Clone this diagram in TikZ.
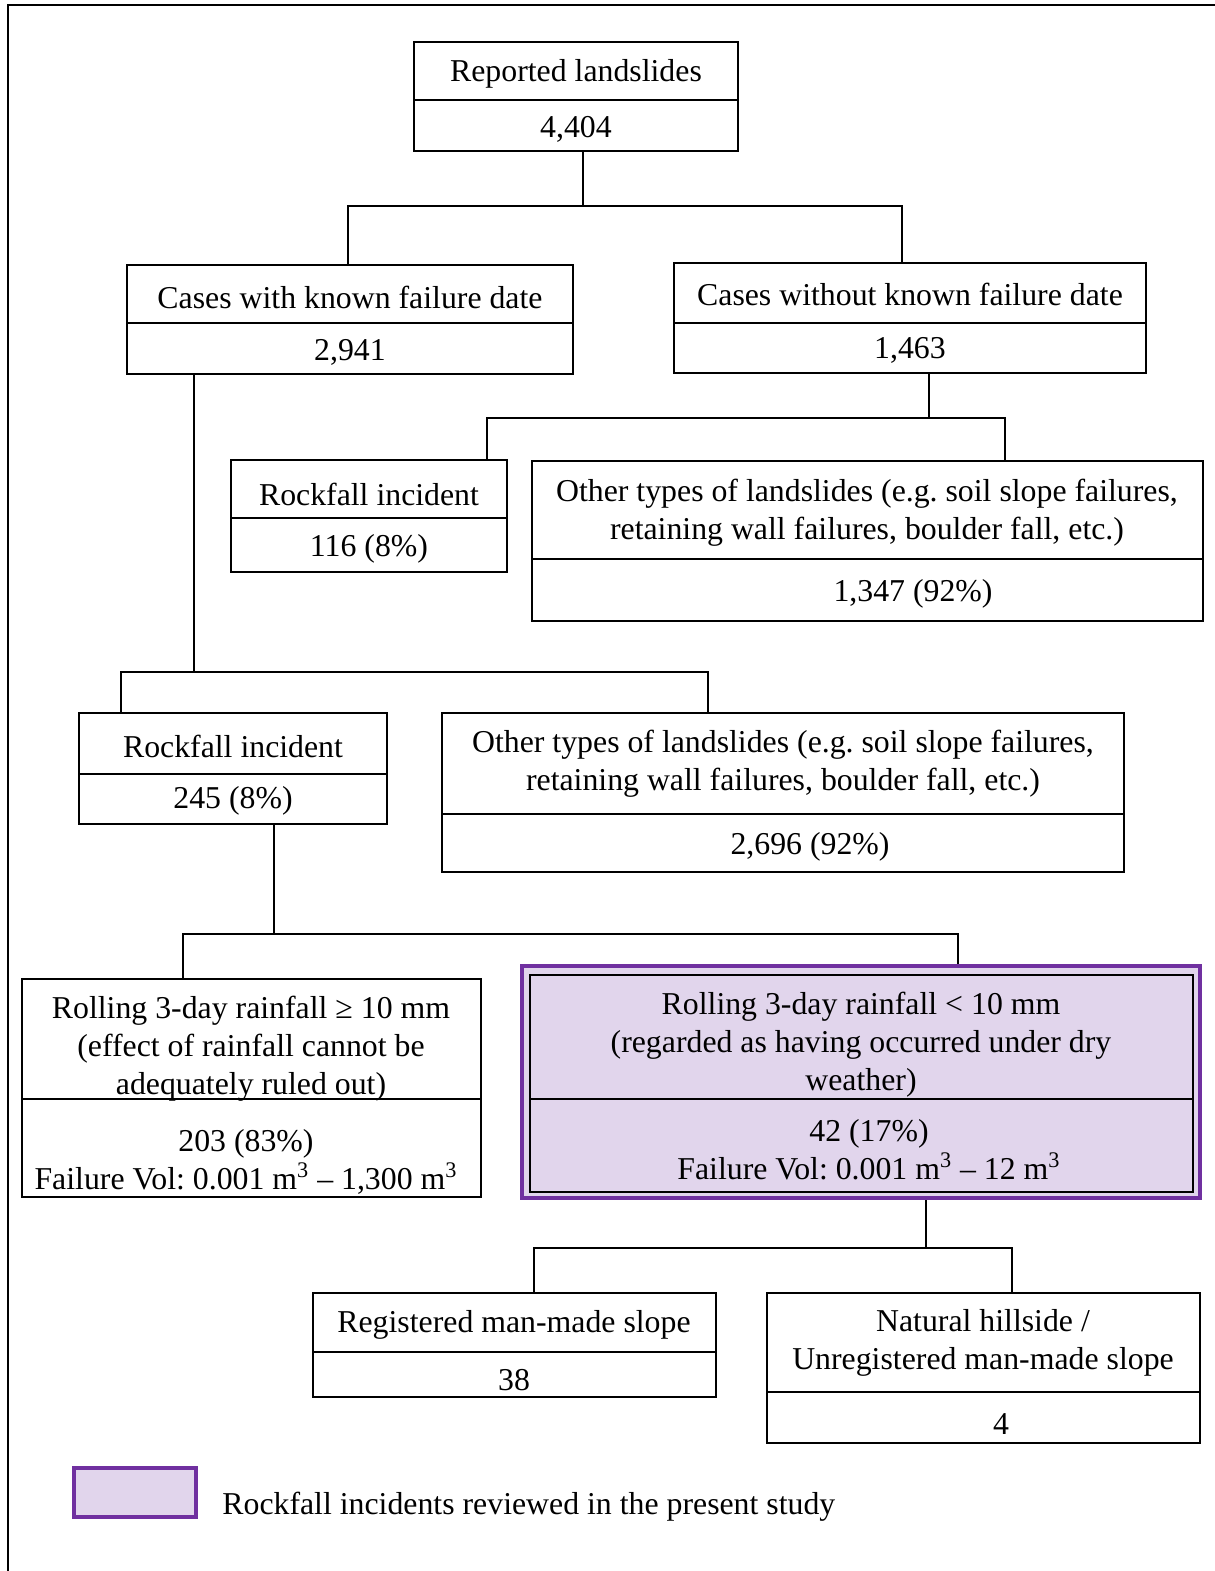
\documentclass[tikz,border=0pt]{standalone}
\usepackage{fontspec}
\setmainfont{Liberation Serif}
\frenchspacing
\usetikzlibrary{fit}
\definecolor{lav}{RGB}{225,213,236}
\definecolor{purp}{RGB}{112,48,160}
\begin{document}
\begin{tikzpicture}[x=0.5pt,y=-0.5pt,
  box/.style={draw, line width=1pt, inner sep=0pt},
  hibox/.style={draw=purp, fill=lav, line width=2pt, inner sep=0pt},
  txt/.style={inner sep=0pt, align=center, yshift=-2pt, font=\fontsize{15.9}{19}\selectfont},
  conn/.style={line width=1pt},
  div/.style={line width=1pt}]
\useasboundingbox (0,0) rectangle (1215,1571);
% frame
\draw[line width=1.3pt] (8,1571) -- (8,5) -- (1215,5);

% boxes
\node[box, fit={(414,42) (738,151)}] (b1) {};
\draw[div] (414,100) -- (738,100);
\node[txt] (t1a) at (576,70) {Reported landslides};
\node[txt] (t1b) at (576,125) {4,404};

\node[box, fit={(127,265) (573,374)}] (b2) {};
\draw[div] (127,323) -- (573,323);
\node[txt] (t2a) at (350,293) {Cases with known failure date};
\node[txt] (t2b) at (350,348) {2,941};

\node[box, fit={(674,263) (1146,373)}] (b3) {};
\draw[div] (674,323) -- (1146,323);
\node[txt] (t3a) at (910,290) {Cases without known failure date};
\node[txt] (t3b) at (910,346) {1,463};

\node[box, fit={(231,460) (507,572)}] (b4) {};
\draw[div] (231,518) -- (507,518);
\node[txt] (t4a) at (369,490) {Rockfall incident};
\node[txt] (t4b) at (369,545) {116 (8\%)};

\node[box, fit={(532,461) (1203,621)}] (b5) {};
\draw[div] (532,559) -- (1203,559);
\node[txt] (t5a) at (867,508.5) {Other types of landslides (e.g. soil slope failures,\\retaining wall failures, boulder fall, etc.)};
\node[txt] (t5b) at (913,590) {1,347 (92\%)};

\node[box, fit={(79,713) (387,824)}] (b6) {};
\draw[div] (79,774) -- (387,774);
\node[txt] (t6a) at (233,742) {Rockfall incident};
\node[txt] (t6b) at (233,797) {245 (8\%)};

\node[box, fit={(442,713) (1124,872)}] (b7) {};
\draw[div] (442,814) -- (1124,814);
\node[txt] (t7a) at (783,760) {Other types of landslides (e.g. soil slope failures,\\retaining wall failures, boulder fall, etc.)};
\node[txt] (t7b) at (810,843) {2,696 (92\%)};

\node[box, fit={(22,979) (481,1197)}] (b8) {};
\draw[div] (22,1099) -- (481,1099);
\node[txt] (t8a) at (251,1045) {Rolling 3-day rainfall ≥ 10 mm\\(effect of rainfall cannot be\\adequately ruled out)};
\node[txt] (t8b) at (246,1158) {203 (83\%)\\Failure Vol: 0.001 m\textsuperscript{3} – 1,300 m\textsuperscript{3}};

\node[hibox, fit={(522,966) (1200,1198)}] (b9) {};
\draw[div] (530,975) rectangle (1193,1192);
\draw[div] (530,1099) -- (1193,1099);
\node[txt] (t9a) at (861,1041) {Rolling 3-day rainfall < 10 mm\\(regarded as having occurred under dry\\weather)};
\node[txt] (t9b) at (869,1146) {42 (17\%)\\Failure Vol: 0.001 m\textsuperscript{3} – 12 m\textsuperscript{3}};

\node[box, fit={(313,1293) (716,1397)}] (b10) {};
\draw[div] (313,1352) -- (716,1352);
\node[txt] (t10a) at (514,1321) {Registered man-made slope};
\node[txt] (t10b) at (514,1376) {38};

\node[box, fit={(767,1293) (1200,1443)}] (b11) {};
\draw[div] (767,1392) -- (1200,1392);
\node[txt] (t11a) at (983,1339) {Natural hillside /\\Unregistered man-made slope};
\node[txt] (t11b) at (1001,1420) {4};

% legend
\node[hibox, fit={(74,1468) (196,1517)}] (leg) {};
\node[txt, anchor=west] (legt) at (222,1503) {Rockfall incidents reviewed in the present study};

% connectors
\coordinate (j1) at (583,206); \coordinate (j1l) at (348,206); \coordinate (j1r) at (902,206);
\draw[conn] (b1.south -| j1) -- (j1);
\draw[conn] (b2.north -| j1l) -- (j1l) -- (j1r) -- (b3.north -| j1r);

\coordinate (j2) at (929,418); \coordinate (j2l) at (487,418); \coordinate (j2r) at (1005,418);
\draw[conn] (b3.south -| j2) -- (j2);
\draw[conn] (b4.north -| j2l) -- (j2l) -- (j2r) -- (b5.north -| j2r);

\coordinate (j3) at (194,672); \coordinate (j3l) at (121,672); \coordinate (j3r) at (708,672);
\draw[conn] (b2.south -| j3) -- (j3);
\draw[conn] (b6.north -| j3l) -- (j3l) -- (j3r) -- (b7.north -| j3r);

\coordinate (j4) at (274,934); \coordinate (j4l) at (183,934); \coordinate (j4r) at (958,934);
\draw[conn] (b6.south -| j4) -- (j4);
\draw[conn] (b8.north -| j4l) -- (j4l) -- (j4r) -- (b9.north -| j4r);

\coordinate (j5) at (926,1248); \coordinate (j5l) at (534,1248); \coordinate (j5r) at (1012,1248);
\draw[conn] (b9.south -| j5) -- (j5);
\draw[conn] (b10.north -| j5l) -- (j5l) -- (j5r) -- (b11.north -| j5r);
\end{tikzpicture}
\end{document}
